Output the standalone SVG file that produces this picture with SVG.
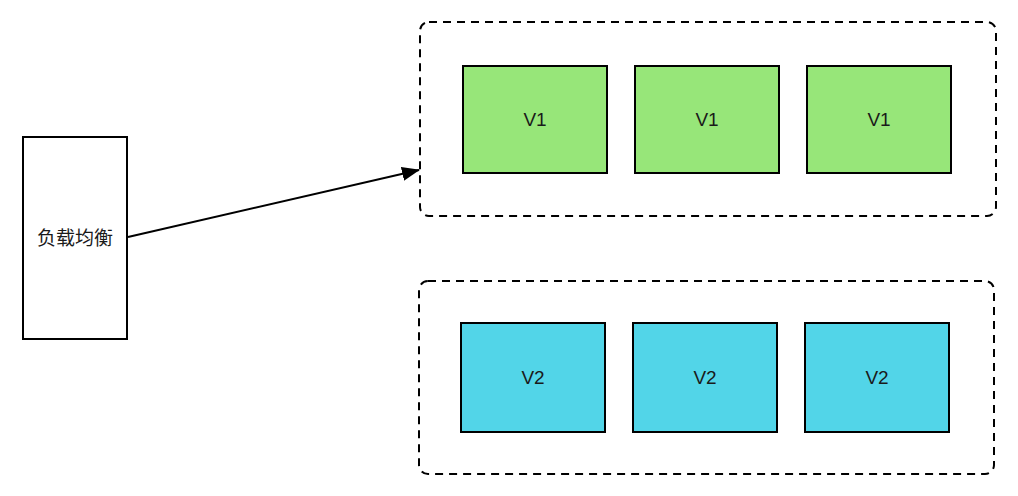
<svg xmlns="http://www.w3.org/2000/svg" width="1018" height="496" viewBox="0 0 1018 496">
<style>
.grp{fill:none;stroke:#000;stroke-width:2;stroke-dasharray:8 6}
.v1{fill:#97E679;stroke:#000;stroke-width:2}
.v2{fill:#52D5E8;stroke:#000;stroke-width:2}
.lb{fill:#fff;stroke:#000;stroke-width:2}
.t{font-family:"Liberation Sans","Noto Sans CJK SC",sans-serif;font-size:19px;fill:#1a1a1a;text-anchor:middle;dominant-baseline:central}
</style>
<defs>
<marker id="arr" markerWidth="18" markerHeight="14" refX="17" refY="7" orient="auto" markerUnits="userSpaceOnUse" viewBox="0 0 18 14">
<path d="M0,0 L18,7 L0,14 Z" fill="#000"/>
</marker>
</defs>
<rect width="1018" height="496" fill="#fff"/>
<g id="group-v1"><rect class="grp" x="420" y="22" width="576" height="194" rx="9"/></g>
<g id="group-v2"><rect class="grp" x="419" y="281" width="575" height="193" rx="9"/></g>
<g id="lb"><rect class="lb" x="23" y="137" width="104" height="202"/><text class="t" x="75" y="238">负载均衡</text></g>
<g id="v1a"><rect class="v1" x="463" y="66" width="144" height="107"/><text class="t" x="535" y="119">V1</text></g>
<g id="v1b"><rect class="v1" x="635" y="66" width="144" height="107"/><text class="t" x="707" y="119">V1</text></g>
<g id="v1c"><rect class="v1" x="807" y="66" width="144" height="107"/><text class="t" x="879" y="119">V1</text></g>
<g id="v2a"><rect class="v2" x="461" y="323" width="144" height="109"/><text class="t" x="533" y="377">V2</text></g>
<g id="v2b"><rect class="v2" x="633" y="323" width="144" height="109"/><text class="t" x="705" y="377">V2</text></g>
<g id="v2c"><rect class="v2" x="805" y="323" width="144" height="109"/><text class="t" x="877" y="377">V2</text></g>
<g id="connectors">
<line x1="128" y1="237" x2="419" y2="170" stroke="#000" stroke-width="2" marker-end="url(#arr)"/>
</g>
</svg>
